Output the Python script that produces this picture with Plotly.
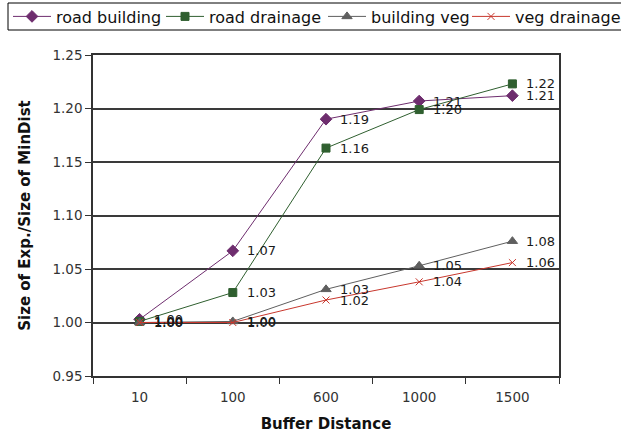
import plotly.graph_objects as go

# Buffer distances (categorical x axis)
distances = ["10", "100", "600", "1000", "1500"]

# Ratio of experiment size to MinDist size per class pair
road_building = [1.003, 1.067, 1.190, 1.207, 1.212]
road_drainage = [1.001, 1.028, 1.163, 1.199, 1.223]
building_veg = [1.000, 1.001, 1.031, 1.053, 1.076]
veg_drainage = [1.000, 1.000, 1.021, 1.038, 1.056]

y_ticks = [0.95, 1.00, 1.05, 1.10, 1.15, 1.20, 1.25]

series = [
    ("road building", road_building, "#6e2d6e", "diamond", 9),
    ("road drainage", road_drainage, "#2f5f2f", "square", 8),
    ("building veg", building_veg, "#5f5f5f", "triangle-up", 9),
    ("veg drainage", veg_drainage, "#c8372d", "x-thin", 7),
]

FONT = "DejaVu Sans"

# canvas and plot area in pixels
W, H = 621, 436
M_L, M_R, M_T, M_B = 93, 62, 55, 60
plot_w = W - M_L - M_R
plot_h = H - M_T - M_B


def px_x(px):
    """Horizontal pixel position -> paper fraction."""
    return (px - M_L) / plot_w


def px_y(py):
    """Vertical pixel position (from top) -> paper fraction."""
    return 1 + (M_T - py) / plot_h


# one single-row legend per series so the strip can run past the right edge
legend_left = [8, 161, 323, 467]
legend_ids = ["legend", "legend2", "legend3", "legend4"]

fig = go.Figure()
annotations = []
for (name, vals, color, symbol, size), lid in zip(series, legend_ids):
    fig.add_trace(go.Scatter(
        x=distances,
        y=vals,
        name=name,
        legend=lid,
        showlegend=True,
        mode="lines+markers",
        line=dict(color=color, width=1),
        marker=dict(symbol=symbol, size=size, color=color,
                    line=dict(color=color, width=1)),
    ))
    # value labels placed just to the right of each point
    for i, v in enumerate(vals):
        annotations.append(dict(
            x=i, y=v, xref="x", yref="y",
            text=f"{v:.2f}", showarrow=False,
            xanchor="left", yanchor="middle", xshift=12,
            font=dict(family=FONT, size=13, color="#1a1a1a"),
        ))

legend_style = dict(
    orientation="h",
    xref="container", yref="container",
    xanchor="left", yanchor="middle",
    y=1 - 16.5 / H,
    bgcolor="rgba(0,0,0,0)",
    borderwidth=0,
    font=dict(family=FONT, size=16, color="#111111"),
    itemwidth=38,
    visible=True,
)
legends = {}
for lid, left in zip(legend_ids, legend_left):
    legends[lid] = dict(legend_style, x=left / W)

fig.update_layout(
    width=W,
    height=H,
    showlegend=True,
    margin=dict(l=M_L, r=M_R, t=M_T, b=M_B, autoexpand=False),
    paper_bgcolor="white",
    plot_bgcolor="white",
    font=dict(family=FONT, size=12, color="#222222"),
    annotations=annotations,
    shapes=[dict(
        type="rect", xref="paper", yref="paper", layer="above",
        x0=px_x(8), x1=px_x(640), y0=px_y(30), y1=px_y(3),
        line=dict(color="#000000", width=1),
    )],
    xaxis=dict(
        type="category",
        range=[-0.5, 4.5],
        showline=True, linecolor="#333333", linewidth=1.5, mirror=True,
        ticks="outside", tickson="boundaries", ticklen=6, tickcolor="#333333",
        showgrid=False,
        ticklabelstandoff=8,
        tickfont=dict(family=FONT, size=13.5, color="#333333"),
        title=dict(text="<b>Buffer Distance</b>", standoff=15,
                   font=dict(family=FONT, size=15, color="#111111")),
    ),
    yaxis=dict(
        range=[0.95, 1.25],
        tickvals=y_ticks,
        tickformat=".2f",
        showline=True, linecolor="#333333", linewidth=1.5, mirror=True,
        ticks="outside", ticklen=6, tickcolor="#333333",
        showgrid=True, gridcolor="#3a3a3a", gridwidth=1.5,
        zeroline=False,
        tickfont=dict(family=FONT, size=13.5, color="#333333"),
        title=dict(text="<b>Size of Exp./Size of MinDist</b>", standoff=18,
                   font=dict(family=FONT, size=15, color="#111111")),
    ),
    **legends,
)

fig.write_html("out.html")
